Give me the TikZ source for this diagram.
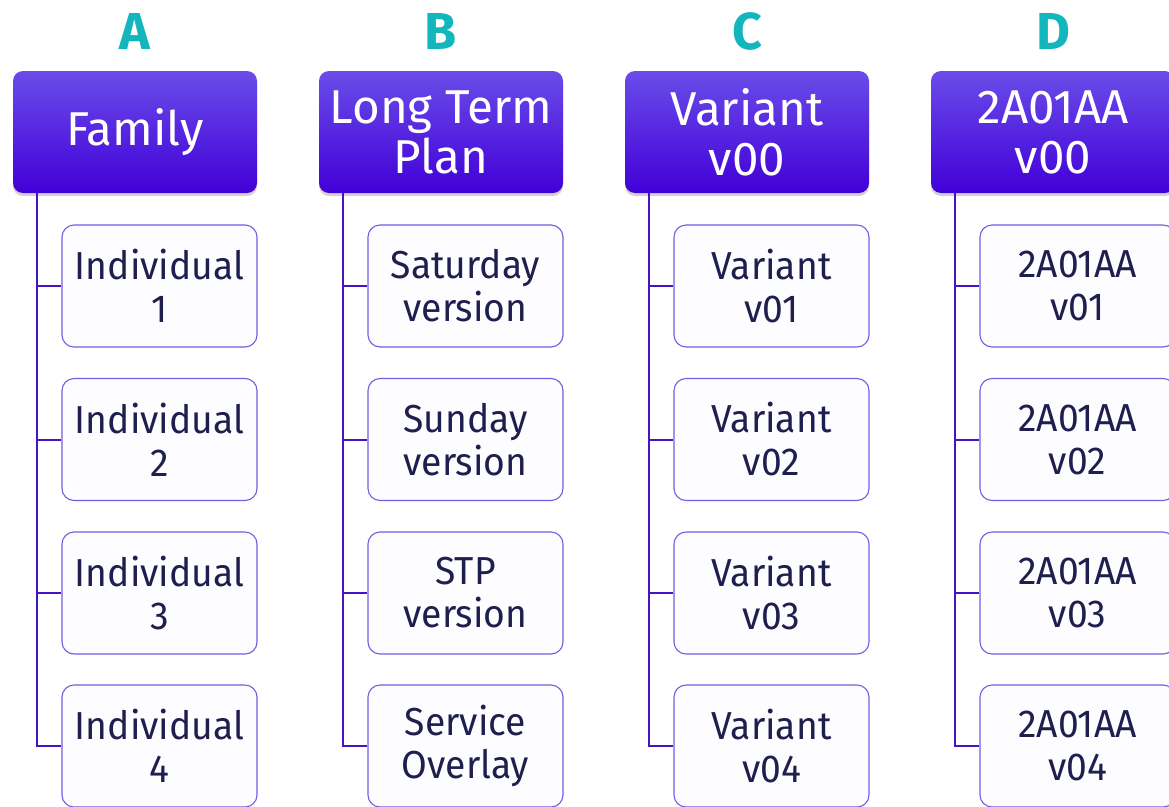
\documentclass[tikz,border=0pt]{standalone}
\usepackage{fontspec}
\setmainfont{Fira Sans}
\newfontfamily\itemfont{Fira Sans}[FakeStretch=0.955]
\usetikzlibrary{shadows}
\definecolor{hdtop}{HTML}{6A4CE8}
\definecolor{hdbot}{HTML}{4200D8}
\definecolor{teal}{HTML}{13B6BC}
\definecolor{ink}{HTML}{1E1F4E}
\definecolor{edge}{HTML}{7A5AE0}
\definecolor{wire}{HTML}{4512C4}
\definecolor{paper}{HTML}{FDFCFF}
\tikzset{
  head/.style={rounded corners=10pt, minimum width=244pt, minimum height=122pt,
    top color=hdtop, bottom color=hdbot, draw=none, text=white, align=center,
    font=\fontsize{47.5}{50}\selectfont, inner sep=0pt,
    drop shadow={opacity=0.35, shadow xshift=0pt, shadow yshift=-3pt}},
  item/.style={rounded corners=12pt, minimum width=195pt, minimum height=122pt,
    draw=edge, line width=1.1pt, fill=paper, text=ink, align=center,
    font=\itemfont\fontsize{39}{43}\selectfont, inner sep=0pt},
  tag/.style={text=teal, font=\bfseries\fontsize{52}{52}\selectfont},
  wire/.style={draw=wire, line width=2pt}
}
\begin{document}
\begin{tikzpicture}[x=1pt, y=-1pt]
\useasboundingbox[fill=white] (0,0) rectangle (1169,806);
% column letters
\node[tag] (lA) at (135,31) {A};
\node[tag] (lB) at (441,31) {B};
\node[tag] (lC) at (747,31) {C};
\node[tag] (lD) at (1053,31) {D};
% header boxes
\node[head] (hA) at (135,132) {Family};
\node[head] (hB) at (441,132) {Long Term\\Plan};
\node[head] (hC) at (747,132) {Variant\\v00};
\node[head] (hD) at (1053,132) {2A01AA\\v00};
% trunk positions
\coordinate (tA) at (37,0);
\coordinate (tB) at (343,0);
\coordinate (tC) at (649,0);
\coordinate (tD) at (955,0);
% child boxes
\node[item] (a1) at (159.5,286) {Individual\\1};
\node[item] (a2) at (159.5,439.5) {Individual\\2};
\node[item] (a3) at (159.5,593) {Individual\\3};
\node[item] (a4) at (159.5,746) {Individual\\4};
\node[item] (b1) at (465.5,286) {Saturday\\version};
\node[item] (b2) at (465.5,439.5) {Sunday\\version};
\node[item] (b3) at (465.5,593) {STP\\version};
\node[item] (b4) at (465.5,746) {Service\\Overlay};
\node[item] (c1) at (771.5,286) {Variant\\v01};
\node[item] (c2) at (771.5,439.5) {Variant\\v02};
\node[item] (c3) at (771.5,593) {Variant\\v03};
\node[item] (c4) at (771.5,746) {Variant\\v04};
\node[item] (d1) at (1077.5,286) {2A01AA\\v01};
\node[item] (d2) at (1077.5,439.5) {2A01AA\\v02};
\node[item] (d3) at (1077.5,593) {2A01AA\\v03};
\node[item] (d4) at (1077.5,746) {2A01AA\\v04};
% connectors
\foreach \c/\C in {a/A,b/B,c/C,d/D}{
  \draw[wire] (h\C.south -| t\C) |- (\c4.west);
  \foreach \i in {1,2,3}{
    \draw[wire] (\c\i.west -| t\C) -- (\c\i.west);
  }
}
\end{tikzpicture}
\end{document}
